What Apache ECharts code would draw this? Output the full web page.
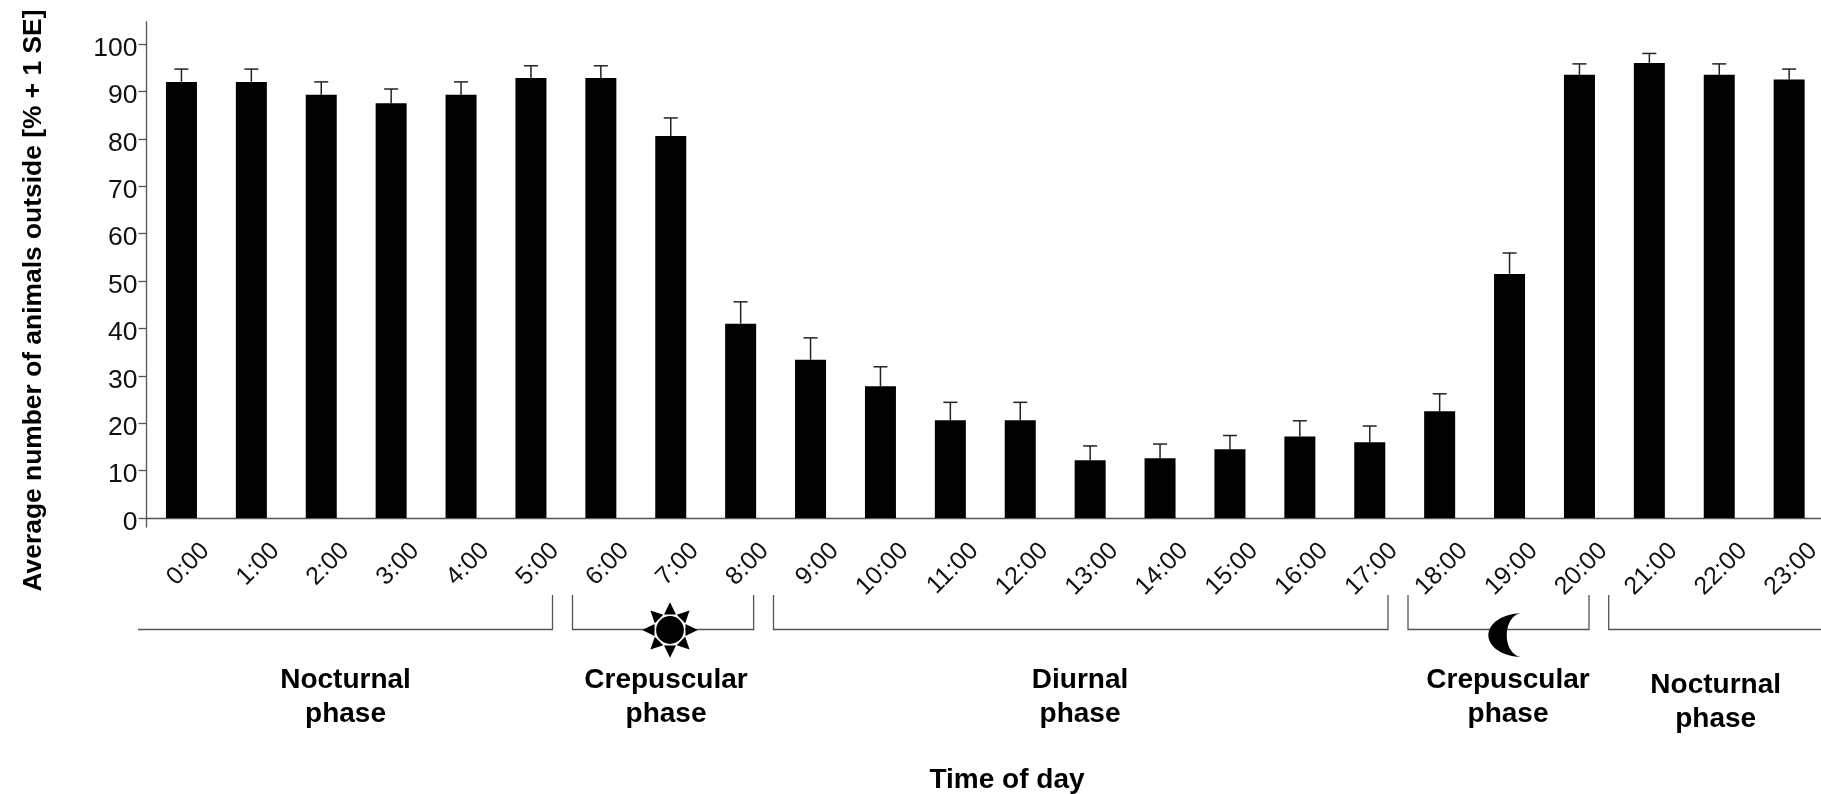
<!DOCTYPE html>
<html><head><meta charset="utf-8">
<style>html,body{margin:0;padding:0;background:#fff}#c{width:1821px;height:794px}</style>
<script src="https://cdn.jsdelivr.net/npm/echarts@6/dist/echarts.min.js"></script>
</head><body><div id="c"></div>
<script>
const hours = ['0:00','1:00','2:00','3:00','4:00','5:00','6:00','7:00','8:00','9:00','10:00','11:00','12:00','13:00','14:00','15:00','16:00','17:00','18:00','19:00','20:00','21:00','22:00','23:00'];
const means = [92,92,89.3,87.5,89.3,92.8,92.8,80.6,41,33.4,27.8,20.6,20.6,12.2,12.6,14.5,17.2,16,22.5,51.5,93.5,96,93.5,92.5];
const upper = [94.7,94.7,92,90.5,92,95.4,95.4,84.4,45.6,38,31.9,24.4,24.4,15.2,15.6,17.4,20.5,19.4,26.2,55.9,95.8,98,95.8,94.7];
const yTicks = [0,10,20,30,40,50,60,70,80,90,100];
const FONT = '"Liberation Sans", Arial, sans-serif';
const AX = '#555';

const chart = echarts.init(document.getElementById('c'), null, {renderer:'canvas'});

function bracket(x1, x2, open){
  const top = 595, bot = 629.5;
  const pts = open === 'left' ? [[x1,bot],[x2,bot],[x2,top]]
            : open === 'right' ? [[x1,top],[x1,bot],[x2,bot]]
            : [[x1,top],[x1,bot],[x2,bot],[x2,top]];
  return {type:'polyline', silent:true, z:1, shape:{points:pts}, style:{stroke:AX, lineWidth:1.3, fill:null}};
}
function label(x, y, t){
  return {type:'text', silent:true, x, y, style:{text:t, font:'bold 28px '+FONT, fill:'#000', align:'center', verticalAlign:'middle', lineHeight:34}};
}
function sun(cx, cy){
  const out = [];
  for(let i=0;i<8;i++){
    const a = i*Math.PI/4, r0 = 15.5, r1 = 27.7, w = 6;
    const c = Math.cos(a), s = Math.sin(a);
    out.push({type:'polygon', silent:true, z:5, shape:{points:[
      [cx+c*r1, cy+s*r1],
      [cx+c*r0 - s*w, cy+s*r0 + c*w],
      [cx+c*r0 + s*w, cy+s*r0 - c*w]
    ]}, style:{fill:'#000'}});
  }
  out.push({type:'ellipse', silent:true, z:6, shape:{cx, cy, rx:14.5, ry:14.5}, style:{fill:'#000', stroke:'#fff', lineWidth:1.2}});
  return out;
}
function moon(tipX, topY, botY, outerX, innerX){
  const cy = (topY+botY)/2, pts = [], n = 24;
  for(let i=0;i<=n;i++){ const a = -Math.PI/2 - Math.PI*i/n;
    pts.push([tipX+(tipX-outerX)*Math.cos(a), cy+(botY-topY)/2*Math.sin(a)]); }
  for(let i=1;i<n;i++){ const a = Math.PI/2 + Math.PI*i/n;
    pts.push([tipX+(tipX-innerX)*Math.cos(a), cy+(botY-topY)/2*Math.sin(a)]); }
  return {type:'polygon', silent:true, z:6, shape:{points:pts}, style:{fill:'#000'}};
}

chart.setOption({
  animation:false,
  backgroundColor:'#fff',
  grid:{left:146.5, top:21.7, width:1677.6, height:505.3, containLabel:false, outerBoundsMode:'none'},
  xAxis:{
    type:'category', data:hours,
    axisLine:{show:true, onZero:true, lineStyle:{color:AX, width:1.3}},
    axisTick:{show:false},
    axisLabel:{rotate:45, interval:0, margin:44, padding:[0,-34,0,0], fontSize:25, color:'#111', fontFamily:FONT, hideOverlap:false}
  },
  yAxis:{
    type:'value', min:-1.9, max:104.7,
    splitLine:{show:false},
    axisLine:{show:true, onZero:false, lineStyle:{color:AX, width:1.3}},
    axisTick:{show:true, length:8, customValues:yTicks, lineStyle:{color:AX, width:1.3}},
    axisLabel:{customValues:yTicks, margin:9, verticalAlign:'top', padding:[-9,0,0,0], fontSize:26.5, color:'#111', fontFamily:FONT}
  },
  series:[
    {type:'bar', data:means, barWidth:31, itemStyle:{color:'#000'}, silent:true, z:3},
    {type:'custom', silent:true, z:2, data:upper.map((u,i)=>[i,means[i],u]),
     encode:{x:0,y:[1,2]},
     renderItem(params, api){
       const b = api.coord([api.value(0), api.value(1)]);
       const t = api.coord([api.value(0), api.value(2)]);
       const st = {stroke:'#222', lineWidth:1.5};
       return {type:'group', children:[
         {type:'line', shape:{x1:b[0],y1:b[1],x2:t[0],y2:t[1]}, style:st},
         {type:'line', shape:{x1:t[0]-7,y1:t[1],x2:t[0]+7,y2:t[1]}, style:st}
       ]};
     }}
  ],
  graphic:[
    bracket(138,552.5,'left'),
    bracket(572.5,753.6),
    bracket(773.5,1388),
    bracket(1408,1589),
    bracket(1608.7,1822,'right'),
    ...sun(670,630),
    moon(1521.7,613.3,657,1488.3,1506.7),
    label(345.5,697.5,'Nocturnal\nphase'),
    label(666,697.5,'Crepuscular\nphase'),
    label(1080,697.5,'Diurnal\nphase'),
    label(1508,697.5,'Crepuscular\nphase'),
    label(1715.7,702.5,'Nocturnal\nphase'),
    {type:'text', silent:true, x:1007, y:780, style:{text:'Time of day', font:'bold 28px '+FONT, fill:'#000', align:'center', verticalAlign:'middle'}},
    {type:'text', silent:true, x:33.5, y:300.5, rotation:Math.PI/2, style:{text:'Average number of animals outside [% + 1 SE]', font:'bold 26.4px '+FONT, fill:'#000', align:'center', verticalAlign:'middle'}}
  ]
});
</script></body></html>
